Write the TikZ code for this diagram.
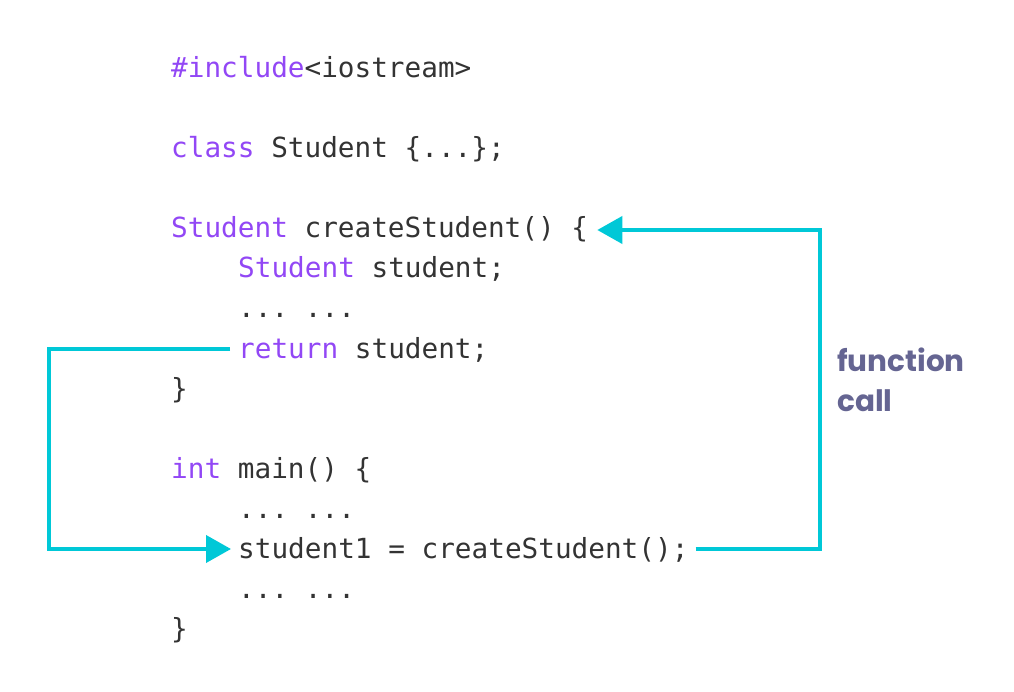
\documentclass[tikz,border=0pt]{standalone}
\usepackage{fontspec}
\setmonofont{DejaVu Sans Mono}
\newfontfamily\labelfont{Poppins}
\usetikzlibrary{arrows.meta,calc}
\definecolor{kw}{HTML}{9247F5}
\definecolor{txt}{HTML}{333333}
\definecolor{conn}{HTML}{00C8D7}
\definecolor{lbl}{HTML}{656592}
\begin{document}
\begin{tikzpicture}[x=1pt,y=-1pt,
  code/.style={anchor=base west,inner sep=0pt,text=txt,font=\ttfamily\fontsize{27.7}{40}\selectfont},
  flow/.style={draw=conn,line width=4pt},
  tipped/.style={flow,-{Triangle[length=25pt,width=27pt]}},
  lab/.style={anchor=base west,inner sep=0pt,text=lbl,font=\labelfont\bfseries\fontsize{29.5}{40}\selectfont}]
\useasboundingbox (0,0) rectangle (1014,692);
\node[code] (inc) at (171,78) {\textcolor{kw}{\#include}<iostream>};
\node[code] (cls) at (171,158) {\textcolor{kw}{class} Student \{...\};};
\node[code] (fdef) at (171,238) {\textcolor{kw}{Student} createStudent() \{};
\node[code] (decl) at (238,278) {\textcolor{kw}{Student} student;};
\node[code] (dots1) at (238,318) {... ...};
\node[code] (ret) at (238,358) {\textcolor{kw}{return} student;};
\node[code] (close1) at (171,398) {\}};
\node[code] (mainl) at (171,478) {\textcolor{kw}{int} main() \{};
\node[code] (dots2) at (238,518) {... ...};
\node[code] (call) at (238,558) {student1 = createStudent();};
\node[code] (dots3) at (238,598) {... ...};
\node[code] (close2) at (171,638) {\}};
\node[lab] (l1) at (837,371) {function};
\node[lab] (l2) at (837,411) {call};
% function call arrow
\coordinate (cs) at ($(call.base east)+(7,-9)$);
\coordinate (ft) at ($(fdef.base east)+(9,-8)$);
\coordinate (rc) at (820,0);
\draw[tipped] (cs) -| (rc |- ft) -- (ft);
% return arrow
\coordinate (rs) at ($(ret.base west)+(-8,-9)$);
\coordinate (ct) at ($(call.base west)+(-7,-9)$);
\coordinate (lc) at (49,0);
\draw[tipped] (rs) -| (lc |- ct) -- (ct);
\end{tikzpicture}
\end{document}
